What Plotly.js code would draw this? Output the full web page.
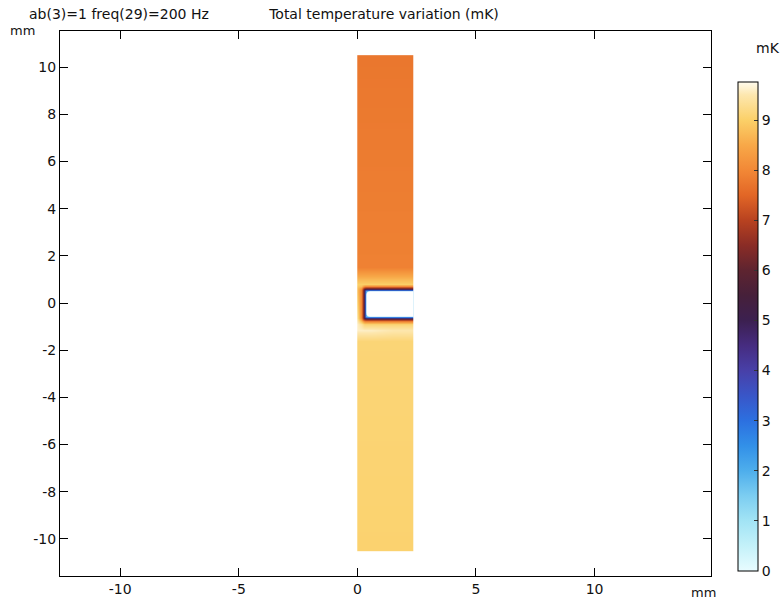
<!DOCTYPE html>
<html>
<head>
<meta charset="utf-8">
<script src="https://cdn.plot.ly/plotly-3.0.1.min.js"></script>
<style>html,body{margin:0;padding:0;background:#fff;}#chart{width:782px;height:600px;}</style>
</head>
<body>
<div id="chart"></div>
<script>
// ---- data (mm, mK) ----
var xNodes = [0, 0.01, 0.18, 0.26, 0.30, 0.34, 0.38, 0.6, 1.5, 2.34, 2.35];
var yNodes = [-10.5, -10.49, -1.6, -1.15, -0.9, -0.78, -0.70, -0.66, -0.62, -0.58, 0.0,
              0.5, 0.54, 0.58, 0.62, 0.70, 0.82, 1.0, 1.5, 10.49, 10.5];
// temperature variation (mK) at each node, one row per yNodes entry
var tempRows = [
  [9.05, 9.05, 9.05, 9.05, 9.05, 9.05, 9.05, 9.05, 9.05, 9.05, 9.05], // -10.5
  [9.05, 9.05, 9.05, 9.05, 9.05, 9.05, 9.05, 9.05, 9.05, 9.05, 9.05], // -10.49
  [9.1, 9.1, 9.1, 9.1, 9.1, 9.1, 9.1, 9.1, 9.1, 9.1, 9.1],    // -1.6
  [9.6, 9.6, 9.6, 9.6, 9.6, 9.6, 9.6, 9.6, 9.5, 9.5, 9.5],    // -1.15
  [9.6, 9.6, 9.4, 9.2, 9.1, 9.1, 9.1, 9.1, 9.1, 9.1, 9.1],    // -0.9
  [9.5, 9.5, 8.8, 8.3, 8.1, 8.0, 8.0, 8.0, 8.0, 8.0, 8.0],    // -0.78
  [9.4, 9.4, 8.3, 7.0, 6.6, 6.4, 6.3, 6.3, 6.3, 6.3, 6.3],    // -0.70
  [9.3, 9.3, 8.1, 6.5, 5.5, 5.0, 4.8, 4.8, 4.8, 4.8, 4.8],    // -0.66
  [9.3, 9.3, 8.0, 6.3, 4.8, 3.6, 3.0, 3.0, 3.0, 3.0, 3.0],    // -0.62
  [9.3, 9.3, 8.0, 6.3, 4.8, 3.0, 1.5, 1.5, 1.5, 1.5, 1.5],    // -0.58
  [9.0, 9.0, 8.0, 6.3, 4.8, 3.0, 1.5, 1.5, 1.5, 1.5, 1.5],    // 0.0
  [8.8, 8.8, 8.0, 6.3, 4.8, 3.0, 1.5, 1.5, 1.5, 1.5, 1.5],    // 0.5
  [8.8, 8.8, 8.0, 6.3, 4.8, 3.6, 3.0, 3.0, 3.0, 3.0, 3.0],    // 0.54
  [8.8, 8.8, 8.1, 6.5, 5.5, 5.0, 4.8, 4.8, 4.8, 4.8, 4.8],    // 0.58
  [8.8, 8.8, 8.3, 7.0, 6.6, 6.4, 6.3, 6.3, 6.3, 6.3, 6.3],    // 0.62
  [8.9, 8.9, 8.8, 8.3, 8.1, 8.0, 8.0, 8.0, 8.0, 8.0, 8.0],    // 0.70
  [9.0, 9.0, 9.0, 9.0, 9.0, 9.0, 9.0, 9.0, 9.0, 9.0, 9.0],    // 0.82
  [8.7, 8.7, 8.7, 8.7, 8.7, 8.7, 8.7, 8.7, 8.7, 8.7, 8.7],    // 1.0
  [7.9, 7.9, 7.9, 7.9, 7.9, 7.9, 7.9, 7.9, 7.9, 7.9, 7.9],    // 1.5
  [7.75, 7.75, 7.75, 7.75, 7.75, 7.75, 7.75, 7.75, 7.75, 7.75, 7.75], // 10.49
  [7.75, 7.75, 7.75, 7.75, 7.75, 7.75, 7.75, 7.75, 7.75, 7.75, 7.75]  // 10.5
];
// slit (not part of the domain): x range, y range, left-corner radius (mm)
var slitX = [0.38, 2.35];
var slitY = [-0.58, 0.5];
var slitR = [0.16];

// colour bar
var cMin = 0, cMax = 9.76;
var colorTicks = [0, 1, 2, 3, 4, 5, 6, 7, 8, 9];
var colorStops = [
  [0.0, '#e8fcff'], [0.5, '#c4f1f9'], [1.0, '#a2e4f5'], [1.5, '#7ccdf1'],
  [2.0, '#4eaeec'], [2.5, '#3290e8'], [3.0, '#2c70e0'], [3.5, '#3956c8'],
  [4.0, '#4840a8'], [4.5, '#462c80'], [5.0, '#3c2050'], [5.5, '#46203a'],
  [6.0, '#5e2430'], [6.5, '#8a2c26'], [7.0, '#b84220'], [7.5, '#e26626'],
  [8.0, '#f28836'], [8.5, '#f8a848'], [9.0, '#fbd068'], [9.5, '#fde7ae'],
  [9.76, '#fffbee']
];
var xTicks = [-10, -5, 0, 5, 10];
var yTicks = [-10, -8, -6, -4, -2, 0, 2, 4, 6, 8, 10];

var colorscale = colorStops.map(function (s) { return [(s[0] - cMin) / (cMax - cMin), s[1]]; });

var FONT = 'DejaVu Sans, Verdana, sans-serif';

var trace = {
  type: 'heatmap',
  x: xNodes, y: yNodes, z: tempRows,
  zsmooth: 'best',
  zmin: cMin, zmax: cMax,
  colorscale: colorscale,
  hoverinfo: 'skip',
  colorbar: {
    x: (738 - 60) / 651, xanchor: 'left', xpad: 0,
    y: (576 - 571) / 545, yanchor: 'bottom', ypad: 0,
    len: 489, lenmode: 'pixels',
    thickness: 20, thicknessmode: 'pixels',
    outlinewidth: 1, outlinecolor: '#000',
    tickvals: colorTicks, ticktext: colorTicks.map(String),
    ticks: 'inside', ticklen: 4, tickcolor: '#333',
    tickfont: {family: FONT, size: 14, color: '#111'},
    ticklabelpad: 11
  }
};

var r = slitR[0];
var x0 = slitX[0], x1 = slitX[1], y0 = slitY[0], y1 = slitY[1];
var slitPath = 'M ' + x1 + ',' + y1 +
  ' L ' + (x0 + r) + ',' + y1 +
  ' Q ' + x0 + ',' + y1 + ' ' + x0 + ',' + (y1 - r) +
  ' L ' + x0 + ',' + (y0 + r) +
  ' Q ' + x0 + ',' + y0 + ' ' + (x0 + r) + ',' + y0 +
  ' L ' + x1 + ',' + y0 + ' Z';

var axisCommon = {
  showgrid: false, zeroline: false,
  showline: true, linecolor: '#000', linewidth: 1,
  mirror: 'ticks', ticks: 'inside', ticklen: 8, tickcolor: '#000', tickwidth: 1,
  tickfont: {family: FONT, size: 14, color: '#111'}
};

var layout = {
  width: 782, height: 600,
  margin: {l: 60, r: 71, t: 31, b: 24, autoexpand: false},
  paper_bgcolor: '#fff', plot_bgcolor: '#fff',
  font: {family: FONT, size: 14, color: '#111'},
  title: {
    text: 'Total temperature variation (mK)',
    x: 384 / 782, xref: 'container', xanchor: 'center',
    y: 1 - 14 / 600, yref: 'container', yanchor: 'middle',
    font: {family: FONT, size: 14, color: '#111'}
  },
  xaxis: Object.assign({}, axisCommon, {
    range: [-12.54, 14.91], tickvals: xTicks, ticktext: xTicks.map(String)
  }),
  yaxis: Object.assign({}, axisCommon, {
    range: [-11.57, 11.53], tickvals: yTicks, ticktext: yTicks.map(String)
  }),
  shapes: [{
    type: 'path', path: slitPath, xref: 'x', yref: 'y',
    fillcolor: '#ffffff', line: {width: 0}, layer: 'above'
  }],
  annotations: [
    {text: 'ab(3)=1 freq(29)=200 Hz', xref: 'paper', yref: 'paper',
     x: (27 - 60) / 651, y: (576 - 14) / 545, xanchor: 'left', yanchor: 'middle',
     showarrow: false, font: {family: FONT, size: 14, color: '#111'}},
    {text: 'mm', xref: 'paper', yref: 'paper',
     x: (22 - 60) / 651, y: (576 - 30) / 545, xanchor: 'center', yanchor: 'middle',
     showarrow: false, font: {family: FONT, size: 13, color: '#111'}},
    {text: 'mm', xref: 'paper', yref: 'paper',
     x: (703 - 60) / 651, y: (576 - 592) / 545, xanchor: 'center', yanchor: 'middle',
     showarrow: false, font: {family: FONT, size: 13, color: '#111'}},
    {text: 'mK', xref: 'paper', yref: 'paper',
     x: (768 - 60) / 651, y: (576 - 48) / 545, xanchor: 'center', yanchor: 'middle',
     showarrow: false, font: {family: FONT, size: 14, color: '#111'}}
  ]
};

Plotly.newPlot('chart', [trace], layout, {displayModeBar: false, staticPlot: true});
</script>
</body>
</html>
